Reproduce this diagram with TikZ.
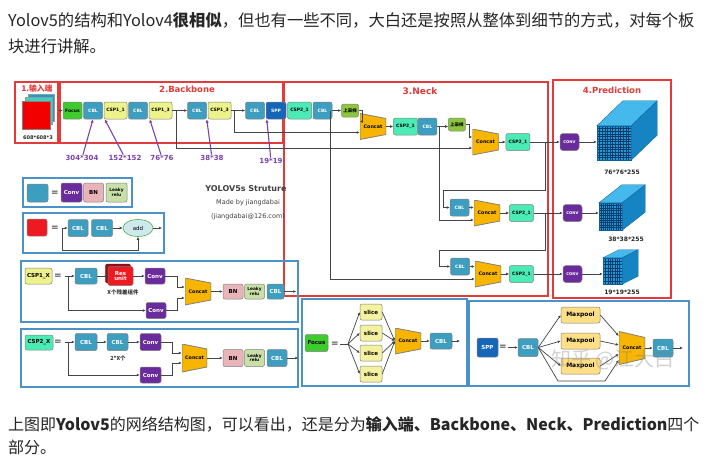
\documentclass[tikz,border=0pt]{standalone}
\usepackage{fontspec}
\setmainfont{Noto Sans CJK SC}
\newfontfamily\cjk{Noto Sans CJK SC}
\newfontfamily\lblfont{DejaVu Sans}
\usetikzlibrary{arrows.meta,positioning,shapes.geometric,shadows,calc}
\newcommand{\fsz}[1]{\fontsize{#1}{#1}\selectfont}
\definecolor{cblc}{HTML}{3E9EC0}
\definecolor{csp1c}{HTML}{EEF28A}
\definecolor{csp2c}{HTML}{4BEBB5}
\definecolor{focusc}{HTML}{3DCB2E}
\definecolor{sppc}{HTML}{1565B8}
\definecolor{upc}{HTML}{8CC63F}
\definecolor{concatc}{HTML}{F7B500}
\definecolor{convc}{HTML}{6A2C9C}
\definecolor{bnc}{HTML}{E8B4B8}
\definecolor{leakyc}{HTML}{C8E0A8}
\definecolor{resc}{HTML}{EE1A22}
\definecolor{addc}{HTML}{CFE8EE}
\definecolor{slicec}{HTML}{F4F1A0}
\definecolor{poolc}{HTML}{FFDF86}
\definecolor{boxred}{HTML}{E53A3A}
\definecolor{legblue}{HTML}{4A92C9}
\definecolor{sizec}{HTML}{7A44A8}
\definecolor{linec}{HTML}{454545}
\definecolor{cubefc}{HTML}{1F9AD6}
\definecolor{cubetc}{HTML}{45B8EC}
\definecolor{cubesc}{HTML}{1684C2}
\definecolor{cubeedge}{HTML}{0E5F95}
\definecolor{gridc}{HTML}{0B3D6E}
\tikzset{
	lnk/.style = {-{Latex[length=3pt,width=2.8pt]}, draw=linec, line width=0.7pt},
	lne/.style = {draw=linec, line width=0.7pt},
	szarr/.style = {-{Latex[length=3.5pt,width=3.2pt]}, draw=sizec, line width=1.1pt},
	redbox/.style = {draw=boxred, line width=1.1pt, inner sep=0pt},
	legbox/.style = {draw=legblue, line width=1.1pt, inner sep=0pt},
	blk/.style = {draw=black!50, rounded corners=2pt, inner sep=0pt, line width=0.5pt, align=center, minimum height=17, font=\lblfont\bfseries\fsz{4.5}},
	lg/.style = {font=\lblfont\bfseries\fsz{5.5}},
	cbl/.style = {blk, fill=cblc, text=white, minimum width=19},
	csp1/.style = {blk, fill=csp1c, minimum width=23},
	csp2/.style = {blk, fill=csp2c, minimum width=24},
	focus/.style = {blk, fill=focusc, minimum width=19},
	spp/.style = {blk, fill=sppc, text=white, minimum width=20},
	upsmp/.style = {blk, fill=upc, minimum width=17, minimum height=13, font=\cjk\bfseries\fsz{4.5}},
	conv/.style = {blk, fill=convc, text=white, minimum width=20, lg},
	predconv/.style = {blk, fill=convc, text=white, minimum width=19, rounded corners=3pt, font=\lblfont\bfseries\fsz{3.8}},
	bn/.style = {blk, fill=bnc, minimum width=20, lg},
	leaky/.style = {blk, fill=leakyc, minimum width=20, font=\lblfont\bfseries\fsz{4.3}},
	res/.style = {blk, fill=resc, text=white, minimum width=25, minimum height=19, lg,
		copy shadow={shadow xshift=-2.5pt, shadow yshift=2.5pt, fill=resc!60!black, draw=resc!60!black}},
	addn/.style = {ellipse, draw=green!45!gray, fill=addc, line width=0.6pt, minimum width=30, minimum height=17, inner sep=0pt, font=\lblfont\fsz{5.5}},
	slicen/.style = {blk, fill=slicec, minimum width=22, minimum height=16, lg},
	pooln/.style = {blk, fill=poolc, minimum width=39, minimum height=16, font=\lblfont\bfseries\fsz{6}},
	concat/.style = {rectangle, fill=white, minimum width=26, minimum height=26, inner sep=0pt, font=\lblfont\bfseries\fsz{4.8},
		path picture={\filldraw[fill=concatc, draw=black!50, line width=0.8pt] (path picture bounding box.north west) -- ([yshift=-#1]path picture bounding box.north east) -- ([yshift=#1]path picture bounding box.south east) -- (path picture bounding box.south west) -- cycle;}},
	concat/.default = 5pt,
	cubef/.style = {draw=cubeedge, fill=cubefc, inner sep=0pt, line width=0.4pt},
	cubegrid/.style = {path picture={
		\foreach \k [evaluate=\k as \f using \k/(#1+1)] in {1,...,#1} {
			\draw[gridc, line width=0.45pt] ($(path picture bounding box.south west)!\f!(path picture bounding box.south east)$) -- ($(path picture bounding box.north west)!\f!(path picture bounding box.north east)$);
			\draw[gridc, line width=0.45pt] ($(path picture bounding box.south west)!\f!(path picture bounding box.north west)$) -- ($(path picture bounding box.south east)!\f!(path picture bounding box.north east)$);
		}}},
	txt/.style = {anchor=west, inner sep=0pt, font=\fsz{16}, text=black!85},
	rtitle/.style = {inner sep=0pt, text=boxred, font=\lblfont\bfseries\fsz{8.5}},
	szlbl/.style = {inner sep=0.5pt, text=sizec, font=\lblfont\bfseries\fsz{7}},
	dimlbl/.style = {inner sep=0pt, text=black!85, font=\lblfont\bfseries\fsz{6}},
	note/.style = {inner sep=0pt, text=black!80, font=\cjk\bfseries\fsz{5.5}},
	credit/.style = {inner sep=0pt, text=black!75, font=\lblfont\fsz{6.5}},
	eqs/.style = {inner sep=0pt, text=black!70, font=\lblfont\bfseries\fsz{9}},
	wmark/.style = {inner sep=0pt, text=gray, opacity=0.35, font=\cjk\fsz{20}}
}

\begin{document}
\begin{tikzpicture}[x=1pt,y=-1pt]
	\useasboundingbox[fill=white] (0,0) rectangle (716,461);
	\node[txt, font=\fsz{16.3}] (top1) at (8,20) {Yolov5的结构和Yolov4\textbf{很相似}，但也有一些不同，大白还是按照从整体到细节的方式，对每个板};
	\node[txt, font=\fsz{16.3}] (top2) at (8,46) {块进行讲解。};
	\node[txt] (bot1) at (8,424) {上图即\textbf{Yolov5}的网络结构图，可以看出，还是分为\textbf{输入端、Backbone、Neck、Prediction}四个};
	\node[txt] (bot2) at (8,447) {部分。};

	\node[redbox, minimum width=43, minimum height=61] (inbox) at (36.5,112.5) {};
	\node[redbox, minimum width=223, minimum height=61] (bbbox) at (171.5,112.5) {};
	\node[redbox, minimum width=264, minimum height=214] (neckbox) at (416,189) {};
	\node[redbox, minimum width=118, minimum height=218] (predbox) at (612,189) {};
	\node[rtitle, font=\cjk\bfseries\fsz{7.8}] (ttlin) at (37,89) {1.输入端};
	\node[rtitle] (ttlbb) at (187,89) {2.Backbone};
	\node[rtitle, font=\lblfont\bfseries\fsz{9}] (ttlneck) at (420,91) {3.Neck};
	\node[rtitle] (ttlpred) at (612,90) {4.Prediction};

	\filldraw[fill=sppc!60!cyan, draw=black!40, line width=0.4pt] (28,94) rectangle (54,121);
	\filldraw[fill=csp2c!60!cblc, draw=black!40, line width=0.4pt] (25,97.5) rectangle (52,124.5);
	\node[draw=black!50, fill=red!95!black, minimum width=28, minimum height=28, inner sep=0pt] (inimg) at (36,115) {};
	\node[dimlbl, font=\lblfont\bfseries\fsz{5}] (insz) at (38,138) {608*608*3};

	\node[focus] (focus) at (72.5,110.5) {Focus};
	\node[cbl, right=1pt of focus] (cbl1) {CBL};
	\node[csp1, right=1pt of cbl1] (csp11) {CSP1\_1};
	\node[cbl, right=1pt of csp11] (cbl2) {CBL};
	\node[csp1, right=1pt of cbl2] (csp13a) {CSP1\_3};
	\node[cbl, right=15pt of csp13a] (cbl3) {CBL};
	\node[csp1, right=1pt of cbl3] (csp13b) {CSP1\_3};
	\node[cbl, right=14pt of csp13b] (cbl4) {CBL};
	\node[spp, right=1pt of cbl4] (spp) {SPP};
	\node[csp2, right=1pt of spp] (csp21a) {CSP2\_1};
	\node[cbl, right=1pt of csp21a] (cbl5) {CBL};
	\node[upsmp, right=9pt of cbl5] (up1) {上采样};

	\node[szlbl] (l304) at (82,158) {304*304};
	\node[szlbl] (l152) at (125,158) {152*152};
	\node[szlbl] (l76) at (162,158) {76*76};
	\node[szlbl] (l38) at (212,158) {38*38};
	\node[szlbl] (l19) at (271,161) {19*19};
	\draw[szarr] (l304) -- (cbl1.south);
	\draw[szarr] (l152) -- ([xshift=1pt]csp11.south west);
	\draw[szarr] (l76) -- ([xshift=1pt]csp13a.south west);
	\draw[szarr] (l38) -- ([xshift=-1pt]csp13b.south west);
	\draw[szarr] (l19) -- ([xshift=1pt]spp.south west);

	\node[concat] (cat1) at (373,126.5) {Concat};
	\node[csp2, right=7pt of cat1] (csp21b) {CSP2\_1};
	\node[cbl, right=0pt of csp21b] (cbl6) {CBL};
	\node[upsmp, right=11pt of cbl6, yshift=2pt] (up2) {上采样};
	\node[concat] (cat2) at (485.5,142) {Concat};
	\node[csp2, right=7pt of cat2] (csp21c) {CSP2\_1};
	\node[cbl] (cbla) at (459.5,207.5) {CBL};
	\node[concat] (cat3) at (487,213) {Concat};
	\node[csp2, right=9pt of cat3] (csp21d) {CSP2\_1};
	\node[cbl] (cblb) at (460,266.5) {CBL};
	\node[concat] (cat4) at (488,274) {Concat};
	\node[csp2, right=8pt of cat4] (csp21e) {CSP2\_1};

	\coordinate (br1) at (176,110.5);
	\coordinate (br2) at (234,110.5);
	\coordinate (br6) at (330,110.5);
	\coordinate (br4) at (439,126.5);
	\coordinate (br3) at (545,142);
	\coordinate (br5) at (545,213);
	\draw[lnk] (inbox.east |- focus.west) -- (focus.west);
	\draw[lnk] (csp13a) -- (cbl3);
	\draw[lnk] (csp13b) -- (cbl4);
	\draw[lnk] (cbl5) -- (up1);
	\draw[lnk] (up1.east) -- ++(4,0) |- ([yshift=5pt]cat1.west);
	\draw[lnk] (br2) |- ([yshift=-6pt]cat1.west);
	\draw[lnk] (cat1) -- (csp21b);
	\draw[lnk] (cbl6) -- (cbl6 -| up2.west);
	\draw[lnk] (up2.east) -- ++(4,0) |- ([yshift=5pt]cat2.west);
	\draw[lnk] (br1) |- ([yshift=-6pt]cat2.west);
	\draw[lnk] (cat2) -- (csp21c);
	\draw[lnk] (br3) |- (443,190) |- (cbla);
	\draw[lnk] (cbla) -- ([yshift=5.5pt]cat3.west);
	\draw[lnk] (br4) |- ([yshift=-7pt]cat3.west);
	\draw[lnk] (cat3) -- (csp21d);
	\draw[lnk] (br5) |- (439,250) |- (cblb);
	\draw[lnk] (cblb) -- ([yshift=7.5pt]cat4.west);
	\draw[lnk] (br6) |- ([yshift=-5pt]cat4.west);
	\draw[lnk] (cat4) -- (csp21e);

	\node[predconv] (conv1) at (569.5,142) {CONV};
	\node[predconv] (conv2) at (572.5,213) {CONV};
	\node[predconv] (conv3) at (572.5,274) {CONV};
	\node[cubef, cubegrid=12, minimum width=34, minimum height=34] (cube1) at (614,143) {};
	\node[cubef, cubegrid=10, minimum width=23, minimum height=27] (cube2) at (610.5,216.5) {};
	\node[cubef, cubegrid=7, minimum width=19, minimum height=26] (cube3) at (612.5,271) {};
	\foreach \c/\dx/\dy in {cube1/26/25, cube2/23/18, cube3/16/8} {
		\filldraw[fill=cubetc, draw=cubeedge, line width=0.3pt] (\c.north west) -- ++(\dx,-\dy) -- ($(\c.north east)+(\dx,-\dy)$) -- (\c.north east) -- cycle;
		\filldraw[fill=cubesc, draw=cubeedge, line width=0.3pt] (\c.north east) -- ++(\dx,-\dy) -- ($(\c.south east)+(\dx,-\dy)$) -- (\c.south east) -- cycle;
	}
	\node[dimlbl] (dim1) at (622,172) {76*76*255};
	\node[dimlbl] (dim2) at (626,239) {38*38*255};
	\node[dimlbl] (dim3) at (622,292) {19*19*255};
	\draw[lnk] (csp21c) -- (conv1);
	\draw[lnk] (csp21d) -- (conv2);
	\draw[lnk] (csp21e) -- (conv3);
	\draw[lnk] (conv1) -- (conv1 -| cube1.west);
	\draw[lnk] (conv2) -- (conv2 -| cube2.west);
	\draw[lnk] (conv3) -- (conv3 -| cube3.west);

	\node[legbox, minimum width=109, minimum height=29] (leg1) at (77.5,192.5) {};
	\node[cbl, minimum width=21, minimum height=18] (leg1sq) at (37.5,193) {};
	\node[eqs] (eq1) at (55,193) {=};
	\node[conv, minimum width=21, minimum height=19] (lconv) at (71.5,192.5) {Conv};
	\node[bn, minimum height=19, right=1pt of lconv] (lbn) {BN};
	\node[leaky, minimum width=21, minimum height=19, right=2pt of lbn] (lleaky) {Leaky\\relu};

	\node[legbox, minimum width=141, minimum height=40] (leg2) at (93.5,233) {};
	\node[blk, fill=resc, minimum width=20, minimum height=17] (leg2sq) at (37,227.5) {};
	\node[eqs] (eq2) at (55,228) {=};
	\coordinate (rin) at (62,228);
	\node[cbl, lg, minimum width=20] (rcbl1) at (78,228) {CBL};
	\node[cbl, lg, minimum width=21, right=3pt of rcbl1] (rcbl2) {CBL};
	\node[addn] (radd) at (138,228) {add};
	\coordinate (rout) at (162,228);
	\draw[lnk] (rin) -- (rcbl1);
	\draw[lnk] (rcbl2) -- (radd);
	\draw[lnk] (radd) -- (rout);
	\draw[lnk] (rin) -- ++(0,22) -| (radd.south);

	\node[credit, font=\lblfont\bfseries\fsz{8}] (yolottl) at (246,189) {YOLOV5s Struture};
	\node[credit] (made) at (248,203) {Made by jiangdabai};
	\node[credit] (mail) at (248,217) {(jiangdabai@126.com)};

	\node[legbox, minimum width=277, minimum height=61] (leg3) at (159.5,291.5) {};
	\node[csp1, lg, minimum width=27, minimum height=16] (c1lbl) at (38.5,276) {CSP1\_X};
	\node[eqs] (eq3) at (58,276) {=};
	\coordinate (c1in) at (65,276);
	\node[cbl, lg, minimum width=22, minimum height=16] (c1cbl) at (86,276) {CBL};
	\node[res] (c1res) at (120.5,276) {Res\\unit};
	\node[note] (c1note) at (123,292) {X个残差组件};
	\node[conv, minimum height=16] (c1conv) at (155,276) {Conv};
	\node[conv, minimum height=16] (c1conv2) at (156,310.5) {Conv};
	\node[concat, minimum height=27] (c1cat) at (198,291.5) {Concat};
	\node[bn, minimum height=15] (c1bn) at (233,291.5) {BN};
	\node[leaky, minimum height=15, right=1pt of c1bn] (c1leaky) {Leaky\\relu};
	\node[cbl, lg, minimum width=17, minimum height=15, right=2pt of c1leaky] (c1cbl2) {CBL};
	\coordinate[right=12pt of c1cbl2] (c1out);
	\draw[lnk] (c1in) -- (c1cbl);
	\draw[lnk] (c1cbl) -- (c1res);
	\draw[lnk] (c1res) -- (c1conv);
	\draw[lnk] (c1conv.east) -- ++(12,0) |- ([yshift=4.5pt]c1cat.west);
	\draw[lnk] (c1conv2.east) -- ++(11,0) |- ([yshift=-6.5pt]c1cat.west);
	\draw[lnk] ([xshift=3pt]c1in) |- (c1conv2);
	\draw[lnk] (c1cat) -- (c1bn);
	\draw[lnk] (c1cbl2) -- (c1out);

	\node[legbox, minimum width=277, minimum height=58] (leg4) at (159.5,358) {};
	\node[csp2, lg, minimum width=28, minimum height=15] (c2lbl) at (39,342.5) {CSP2\_X};
	\node[eqs] (eq4) at (58,342.5) {=};
	\coordinate (c2in) at (65,342);
	\node[cbl, lg, minimum width=22] (c2cbl1) at (86,342) {CBL};
	\node[cbl, lg, minimum width=21] (c2cbl2) at (117.5,342) {CBL};
	\node[conv, minimum width=21] (c2conv) at (150.5,342) {Conv};
	\node[note] (c2note) at (118,358) {2*X个};
	\node[conv, minimum width=21, minimum height=16] (c2conv2) at (150.5,375) {Conv};
	\node[concat, minimum width=25, minimum height=28] (c2cat) at (194.5,358) {Concat};
	\node[bn] (c2bn) at (233,358) {BN};
	\node[leaky, right=1pt of c2bn] (c2leaky) {Leaky\\relu};
	\node[cbl, lg, minimum width=20, right=2pt of c2leaky] (c2cbl3) {CBL};
	\coordinate[right=11pt of c2cbl3] (c2out);
	\draw[lnk] (c2in) -- (c2cbl1);
	\draw[lnk] (c2cbl1) -- (c2cbl2);
	\draw[lnk] (c2cbl2) -- (c2conv);
	\draw[lnk] (c2conv.east) -- ++(11,0) |- ([yshift=5pt]c2cat.west);
	\draw[lnk] (c2conv2.east) -- ++(11,0) |- ([yshift=-5pt]c2cat.west);
	\draw[lnk] ([xshift=3pt]c2in) |- (c2conv2);
	\draw[lnk] (c2cat) -- (c2bn);
	\draw[lnk] (c2cbl3) -- (c2out);

	\node[legbox, minimum width=165, minimum height=87] (leg5) at (384.5,342.5) {};
	\node[focus, lg, minimum width=23] (ffocus) at (316.5,343) {Focus};
	\node[eqs] (eq5) at (335,344) {=};
	\coordinate (fin) at (340,344);
	\coordinate (fsplit) at (348,344);
	\foreach \y [count=\i] in {312,333,353,374}
		\node[slicen] (sl\i) at (371,\y) {slice};
	\node[concat] (fcat) at (408,341) {Concat};
	\node[cbl, lg, minimum width=22, minimum height=16] (fcbl) at (441,341) {CBL};
	\coordinate (fout) at (460,341);
	\draw[lne] (fin) -- (fsplit);
	\foreach \i in {1,...,4} {
		\draw[lnk] (fsplit) -- (sl\i.west);
		\draw[lnk] (sl\i.east) -- (fcat.west);
	}
	\draw[lnk] (fcat) -- (fcbl);
	\draw[lnk] (fcbl) -- (fout);

	\node[legbox, minimum width=220, minimum height=85] (leg6) at (579,343.5) {};
	\node[spp, lg, minimum width=21, minimum height=19] (sspp) at (487.5,347.5) {SPP};
	\node[eqs] (eq6) at (503,347) {=};
	\coordinate (sin) at (508,347.5);
	\node[cbl, lg, minimum width=20, minimum height=18] (scbl) at (528,347.5) {CBL};
	\foreach \y [count=\i] in {315,341,366}
		\node[pooln] (mp\i) at (580.5,\y) {Maxpool};
	\node[concat=6pt, minimum height=33] (scat) at (632,348) {Concat};
	\node[cbl, lg, minimum width=20, minimum height=18] (scbl2) at (663,348) {CBL};
	\coordinate (sout) at (683,348);
	\draw[lnk] (sin) -- (scbl);
	\foreach \i in {1,2,3}
		\draw[lnk] (scbl.east) -- (mp\i.west);
	\draw[lnk] (mp1.east) -- ([yshift=12pt]scat.west);
	\draw[lnk] (mp2.east) -- ([yshift=3pt]scat.west);
	\draw[lnk] (mp3.east) -- ([yshift=-6pt]scat.west);
	\draw[lnk] (scbl.east) -- (558,381) -- (605,381) -- ([yshift=-12pt]scat.west);
	\draw[lnk] (scat) -- (scbl2);
	\draw[lnk] (scbl2) -- (sout);
	\node[wmark] (wm) at (613,360) {知乎 @江大白};
\end{tikzpicture}
\end{document}
